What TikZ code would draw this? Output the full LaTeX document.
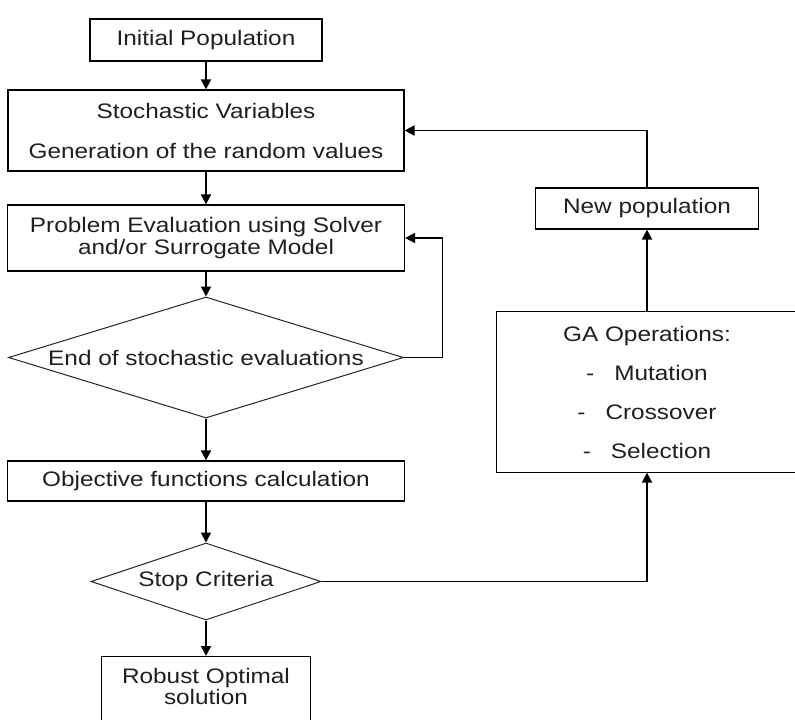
\documentclass[tikz,border=0pt]{standalone}
\usepackage{fontspec}
\setmainfont{Liberation Sans}[FakeStretch=1.16]
\usetikzlibrary{shapes.geometric,arrows.meta}
\begin{document}
\begin{tikzpicture}[x=1pt,y=-1pt,
  box/.style={draw=black,line width=1.2pt,rectangle,inner sep=0pt,align=center,
    text=black!88,font=\fontsize{21}{22}\selectfont},
  dia/.style={draw=black!85,line width=1pt,diamond,inner sep=0pt,align=center,
    text=black!88,font=\fontsize{21}{22}\selectfont},
  arr/.style={line width=1.8pt,-{Triangle[length=10pt,width=10pt]}}]
\useasboundingbox (0,0) rectangle (795,720);
% left column
\node[box,minimum width=232pt,minimum height=42pt] (init) at (206,40) {Initial Population};
\node[box,minimum width=396pt,minimum height=81pt,font=\fontsize{21}{40}\selectfont] (stoch) at (206,130.5)
  {Stochastic Variables\\Generation of the random values};
\node[box,minimum width=397pt,minimum height=66pt] (prob) at (206,238)
  {Problem Evaluation using Solver\\and/or Surrogate Model};
\node[dia,minimum width=395pt,minimum height=121pt,aspect=3.26] (d1) at (206,357.5)
  {End of stochastic evaluations};
\node[box,minimum width=397pt,minimum height=40pt] (obj) at (206,481)
  {Objective functions calculation};
\node[dia,minimum width=230pt,minimum height=77pt,aspect=3] (d2) at (206,581.5)
  {Stop Criteria};
\node[box,minimum width=209pt,inner ysep=12pt,anchor=north,font=\fontsize{21}{19.5}\selectfont] (robust) at (206,656)
  {Robust Optimal\\solution\rule[-40pt]{0pt}{0pt}};
% right column
\node[box,minimum width=223pt,minimum height=41pt] (newpop) at (647,208.5) {New population};
\node[box,draw=none,minimum width=300pt,minimum height=160pt,font=\fontsize{21}{39}\selectfont] (ga) at (647,392)
  {GA Operations:\\-\hspace{20pt}Mutation\\-\hspace{20pt}Crossover\\-\hspace{20pt}Selection};
\draw[line width=1.2pt] (ga.north east) -- (ga.north west) -- (ga.south west) -- (ga.south east);
% connectors
\draw[arr] (init.south) -- (stoch.north);
\draw[arr] (stoch.south) -- (prob.north);
\draw[arr] (prob.south) -- (d1.north);
\draw[arr] (d1.east) -- ++(38.5,0) |- (prob.east);
\draw[arr] (d1.south) -- (obj.north);
\draw[arr] (obj.south) -- (d2.north);
\draw[arr] (d2.south) -- (robust.north);
\draw[arr] (d2.east) -| (ga.south);
\draw[arr] (ga.north) -- (newpop.south);
\draw[arr] (newpop.north) |- (stoch.east);
\end{tikzpicture}
\end{document}
